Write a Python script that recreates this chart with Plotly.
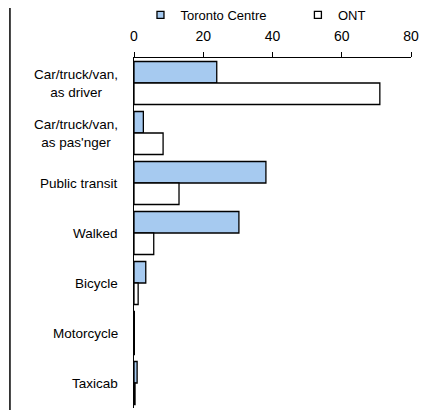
import plotly.graph_objects as go

categories = ["Car/truck/van,<br>as driver", "Car/truck/van,<br>as pas'nger", "Public transit",
              "Walked", "Bicycle", "Motorcycle", "Taxicab"]
toronto_centre = [23.9, 2.7, 38.1, 30.3, 3.4, 0.1, 0.9]
ont = [71.0, 8.4, 13.0, 5.7, 1.2, 0.1, 0.3]
x_ticks = [0, 20, 40, 60, 80]

font = "Liberation Sans, Arial, sans-serif"

# page body has an 8px margin, so the figure is sized to fit in the remaining window
W, H = 424, 402
L, R, T, B = 125.5, 20.5, 50, 2
plot_w, plot_h = W - L - R, H - T - B

fig = go.Figure()
fig.add_trace(go.Bar(y=categories, x=toronto_centre, orientation="h", name="Toronto Centre",
                     marker=dict(color="#A6CAF0", line=dict(color="black", width=1.3)),
                     showlegend=False))
fig.add_trace(go.Bar(y=categories, x=ont, orientation="h", name="ONT",
                     marker=dict(color="white", line=dict(color="black", width=1.3)),
                     showlegend=False))
# legend entries with small square markers
for name, col, leg in [("Toronto Centre", "#A6CAF0", "legend"), ("ONT", "white", "legend2")]:
    fig.add_trace(go.Scatter(x=[None], y=[None], mode="markers", name=name, legend=leg,
                             marker=dict(symbol="square", size=7, color=col,
                                         line=dict(color="black", width=1.3))))

for c in categories:
    fig.add_annotation(x=0, xref="paper", y=c, yref="y", text=c, showarrow=False,
                       xanchor="right", align="center", xshift=-14,
                       font=dict(size=13.5, color="black", family=font))

fig.add_shape(type="line", xref="paper", yref="paper", x0=(1 - L) / plot_w, x1=(1 - L) / plot_w,
              y0=-0.02, y1=1 + T / plot_h + 0.02, line=dict(color="black", width=1.5))

legend_style = dict(orientation="h", y=1 + 43 / plot_h, xanchor="left", yanchor="middle",
                    font=dict(size=13), itemwidth=30, bgcolor="rgba(0,0,0,0)")

fig.update_layout(
    width=W, height=H,
    margin=dict(l=L, r=R, t=T, b=B, autoexpand=False),
    paper_bgcolor="white", plot_bgcolor="white",
    barmode="group", bargap=0.14, bargroupgap=0,
    font=dict(family=font, size=13.5, color="black"),
    legend=dict(x=(132 - L) / plot_w, **legend_style),
    legend2=dict(x=(290 - L) / plot_w, **legend_style),
    xaxis=dict(side="top", range=[0, 80], tickvals=x_ticks, showgrid=False, zeroline=False,
               showline=True, linecolor="black", linewidth=1, ticks="outside",
               ticklen=5, tickcolor="black", tickfont=dict(size=14), ticklabelstandoff=5),
    yaxis=dict(autorange="reversed", showticklabels=False, showgrid=False, zeroline=False,
               showline=True, linecolor="black", linewidth=1.3, ticks=""),
)

fig.write_html("out.html")
